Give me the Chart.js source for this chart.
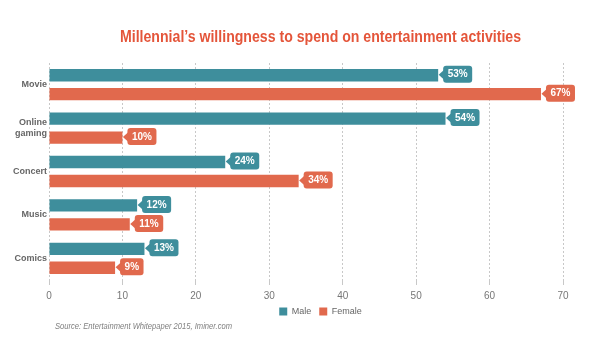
<!DOCTYPE html>
<html><head><meta charset="utf-8">
<script src="https://cdn.jsdelivr.net/npm/chart.js@4/dist/chart.umd.min.js"></script>
<style>html,body{margin:0;padding:0;background:#fff}#wrap{width:599px;height:350px}</style>
</head><body><div id="wrap"><canvas id="c" width="599" height="350"></canvas></div>
<script>
const categories = [["Movie"], ["Online", "gaming"], ["Concert"], ["Music"], ["Comics"]];
const maleValues = [53, 54, 24, 12, 13];
const femaleValues = [67, 10, 34, 11, 9];
const xTicks = [0, 10, 20, 30, 40, 50, 60, 70];
const titleText = "Millennial\u2019s willingness to spend on entertainment activities";
const sourceText = "Source: Entertainment Whitepaper 2015, Iminer.com";

const MALE = '#3e8e9c', FEMALE = '#e1694d';
const FONT = '"Liberation Sans", Arial, sans-serif';

const shiftPlugin = {
  id: 'shift',
  afterLayout(chart) {
    const d = 39, dy = -8;
    if (chart.legend) {
      chart.legend.left += d; chart.legend.right += d;
      chart.legend.top += dy; chart.legend.bottom += dy;
    }
  }
};

function drawFitted(ctx, text, font, color, cx, cy, width, align) {
  ctx.save();
  ctx.font = font;
  const w = ctx.measureText(text).width;
  const s = width / w;
  ctx.fillStyle = color;
  ctx.textBaseline = 'middle';
  ctx.textAlign = 'left';
  const left = align === 'left' ? cx : cx - width / 2;
  ctx.translate(left, cy);
  ctx.scale(s, 1);
  ctx.fillText(text, 0, 0);
  ctx.restore();
}

const textPlugin = {
  id: 'texts',
  afterDraw(chart) {
    const ctx = chart.ctx;
    drawFitted(ctx, titleText, 'bold 16px ' + FONT, '#e4553a', 320.5, 38, 401, 'center');
    drawFitted(ctx, sourceText, 'italic 9px ' + FONT, '#808080', 55, 326, 177, 'left');
  }
};

function roundRect(ctx, x, y, w, h, r) {
  ctx.moveTo(x + r, y);
  ctx.lineTo(x + w - r, y); ctx.quadraticCurveTo(x + w, y, x + w, y + r);
  ctx.lineTo(x + w, y + h - r); ctx.quadraticCurveTo(x + w, y + h, x + w - r, y + h);
  ctx.lineTo(x + r, y + h); ctx.quadraticCurveTo(x, y + h, x, y + h - r);
  ctx.lineTo(x, y + r); ctx.quadraticCurveTo(x, y, x + r, y);
}

const calloutPlugin = {
  id: 'callout',
  afterDatasetsDraw(chart) {
    const ctx = chart.ctx;
    ctx.save();
    ctx.font = 'bold 10px ' + FONT;
    chart.data.datasets.forEach((ds, di) => {
      const meta = chart.getDatasetMeta(di);
      meta.data.forEach((el, i) => {
        const txt = ds.data[i] + '%';
        const tw = ctx.measureText(txt).width;
        const x0 = el.x + 5, h = 17, w = tw + 9;
        const y0 = el.y - h / 2 - 1;
        ctx.beginPath();
        roundRect(ctx, x0, y0, w, h, 3);
        ctx.fillStyle = ds.backgroundColor;
        ctx.fill();
        ctx.beginPath();
        ctx.moveTo(el.x + 0.5, el.y - 0.5);
        ctx.lineTo(x0 + 1, el.y - 5.5);
        ctx.lineTo(x0 + 1, el.y + 4.5);
        ctx.closePath();
        ctx.fill();
        ctx.fillStyle = '#fff';
        ctx.textAlign = 'center';
        ctx.textBaseline = 'middle';
        ctx.fillText(txt, x0 + w / 2, el.y - 0.5);
      });
    });
    ctx.restore();
  }
};

new Chart(document.getElementById('c'), {
  type: 'bar',
  data: {
    labels: categories,
    datasets: [
      { label: 'Male', data: maleValues, backgroundColor: MALE, categoryPercentage: 0.874, barPercentage: 0.65 },
      { label: 'Female', data: femaleValues, backgroundColor: FEMALE, categoryPercentage: 0.874, barPercentage: 0.65 }
    ]
  },
  options: {
    indexAxis: 'y',
    responsive: false,
    animation: false,
    layout: { padding: { left: 0, right: 36, top: 63, bottom: 16 } },
    scales: {
      x: {
        min: 0, max: 70,
        afterBuildTicks(scale) { scale.ticks = xTicks.map(v => ({ value: v })); },
        grid: { color: '#c8c8c8', lineWidth: 1, tickLength: 5, drawTicks: true },
        border: { display: false, dash: [2, 2] },
        ticks: { color: '#777', font: { family: FONT, size: 10 }, padding: 5 }
      },
      y: {
        afterFit(scale) { scale.width = 49; },
        grid: { display: false, drawTicks: false, tickLength: 0 },
        border: { display: false },
        ticks: { color: '#666', font: { family: FONT, size: 9, weight: 'bold', lineHeight: 1.15 }, padding: 2 }
      }
    },
    plugins: {
      title: { display: false },
      legend: {
        position: 'bottom',
        labels: { boxWidth: 8, boxHeight: 8, color: '#666', padding: 8, font: { family: FONT, size: 9 } }
      },
      tooltip: { enabled: false }
    }
  },
  plugins: [shiftPlugin, calloutPlugin, textPlugin]
});
</script></body></html>
